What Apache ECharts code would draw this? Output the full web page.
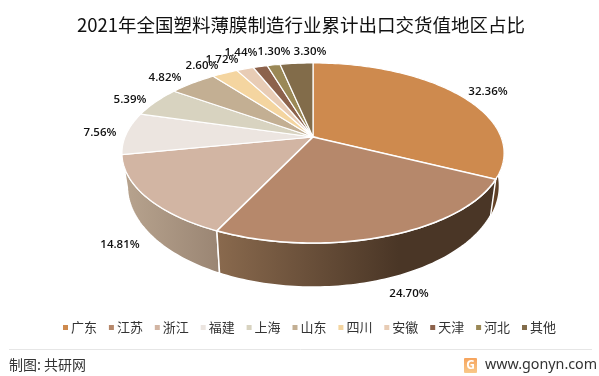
<!DOCTYPE html>
<html>
<head>
<meta charset="utf-8">
<style>html,body{margin:0;padding:0;background:#fff}#main{width:599px;height:376px}</style>
<script src="https://cdn.jsdelivr.net/npm/echarts@6/dist/echarts.min.js"></script>
</head>
<body>
<div id="main"></div>
<script>
const categories = ['广东', '江苏', '浙江', '福建', '上海', '山东', '四川', '安徽', '天津', '河北', '其他']
const shares = [32.36, 24.70, 14.81, 7.56, 5.39, 4.82, 2.60, 1.72, 1.44, 1.30, 3.30]
const colors = ['#CE8A4E', '#B6886B', '#D2B5A3', '#ECE5E0', '#D8D3C0', '#C3AF93', '#F4D5A0', '#E8CCB5', '#8C624C', '#9A8856', '#826C4A']

// label centres, the pie labels were placed by hand in the original
const labelPos = [[488, 92], [409, 294], [120, 245], [100, 133], [130, 100], [165, 78], [202, 66], [222, 60], [241, 53], [274, 52], [310, 52]]

// side wall gradients, only the slices facing the viewer have one
const wallColors = {
  0: ['#7a4f2a', '#4a3524'],
  1: ['#8a6a4e', '#4a3626'],
  2: ['#b8a48f', '#9a8573']
}

const total = shares.reduce((a, b) => a + b, 0)

// tilted disc: a circle seen in perspective, so the apex sits above the ellipse centre
const cx = 313, cy = 137, A = 188, B = 87.2, k = 0.1778

function project(angle) {
  const x = Math.sin(angle), y = -Math.cos(angle)
  const w = 1 - k * y
  return [cx + A * x / w, cy + B * y / w]
}

function lower(p) {
  const dy = 36 + (p[1] - 179) * 0.125
  return [cx + (p[0] - cx) * 0.972, p[1] + dy]
}

function rimPoints(a0, a1) {
  const steps = Math.max(2, Math.ceil((a1 - a0) / 0.02))
  const pts = []
  for (let i = 0; i <= steps; i++) pts.push(project(a0 + (a1 - a0) * i / steps))
  return pts
}

function sliceAngles(idx) {
  let before = 0
  for (let i = 0; i < idx; i++) before += shares[i]
  return [before / total * Math.PI * 2, (before + shares[idx]) / total * Math.PI * 2]
}

function renderSlice(idx) {
  return function () {
    const [a0, a1] = sliceAngles(idx)
    const children = []
    const wall = wallColors[idx]
    if (wall) {
      // only the part of the rim below the widest points shows
      const from = Math.max(a0, 1.39)
      const to = Math.min(a1, 4.9)
      const top = rimPoints(from, to)
      const bottom = top.map(lower).reverse()
      children.push({
        type: 'polygon',
        shape: {points: top.concat(bottom)},
        style: {
          fill: new echarts.graphic.LinearGradient(0, 0, 1, 0, [
            {offset: 0, color: wall[0]},
            {offset: idx === 1 ? 0.65 : 1, color: wall[1]},
            {offset: 1, color: wall[1]}
          ]),
          stroke: '#fff',
          lineWidth: idx === 0 ? 0 : 1.5
        }
      })
    }
    children.push({
      type: 'polygon',
      shape: {points: [[cx, cy]].concat(rimPoints(a0, a1))},
      style: {fill: colors[idx], stroke: '#fff', lineWidth: idx === 1 ? 1.6 : 1.2}
    })
    children.push({
      type: 'text',
      z2: 100,
      style: {
        x: labelPos[idx][0],
        y: labelPos[idx][1],
        text: shares[idx].toFixed(2) + '%',
        align: 'center',
        verticalAlign: 'middle',
        fill: '#111',
        font: '600 11.5px "Open Sans"'
      }
    })
    return {type: 'group', children}
  }
}

const chart = echarts.init(document.getElementById('main'), null, {renderer: 'canvas'})

chart.setOption({
  animation: false,
  backgroundColor: '#fff',
  title: {
    text: '2021年全国塑料薄膜制造行业累计出口交货值地区占比',
    left: 72,
    top: 11,
    textStyle: {color: '#111', fontSize: 18.5, fontWeight: 'normal', fontFamily: 'Noto Sans CJK SC'}
  },
  legend: {
    data: categories,
    top: 316,
    left: 58,
    icon: 'rect',
    itemWidth: 5,
    itemHeight: 5,
    itemGap: 11.9,
    selectedMode: false,
    textStyle: {color: '#333', fontSize: 13, padding: [0, 0, 0, -2], fontFamily: 'Noto Sans CJK SC'}
  },
  series: categories.map((name, i) => ({
    name,
    type: 'custom',
    coordinateSystem: 'none',
    silent: true,
    z: i === 1 ? 3 : 2,
    itemStyle: {color: colors[i]},
    data: [shares[i]],
    renderItem: renderSlice(i)
  })),
  graphic: [
    {type: 'line', shape: {x1: 9, y1: 349.5, x2: 592, y2: 349.5}, style: {stroke: '#e6e6e6', lineWidth: 1}},
    {type: 'text', style: {x: 9, y: 365, text: '制图: 共研网', fill: '#333', verticalAlign: 'middle', font: '14px "Noto Sans CJK SC"'}},
    {type: 'rect', shape: {x: 464, y: 358, width: 13, height: 15, r: 1}, style: {fill: new echarts.graphic.LinearGradient(0, 0, 0, 1, [{offset: 0, color: '#f6a35c'}, {offset: 1, color: '#f9c98a'}])}},
    {type: 'text', style: {x: 470.5, y: 365.5, text: 'G', fill: '#fff', align: 'center', verticalAlign: 'middle', font: 'bold 12px "Noto Sans"'}},
    {type: 'text', style: {x: 485, y: 365, text: 'www.gonyn.com', fill: '#333', verticalAlign: 'middle', font: '14.3px "Noto Sans"'}}
  ]
})
</script>
</body>
</html>
